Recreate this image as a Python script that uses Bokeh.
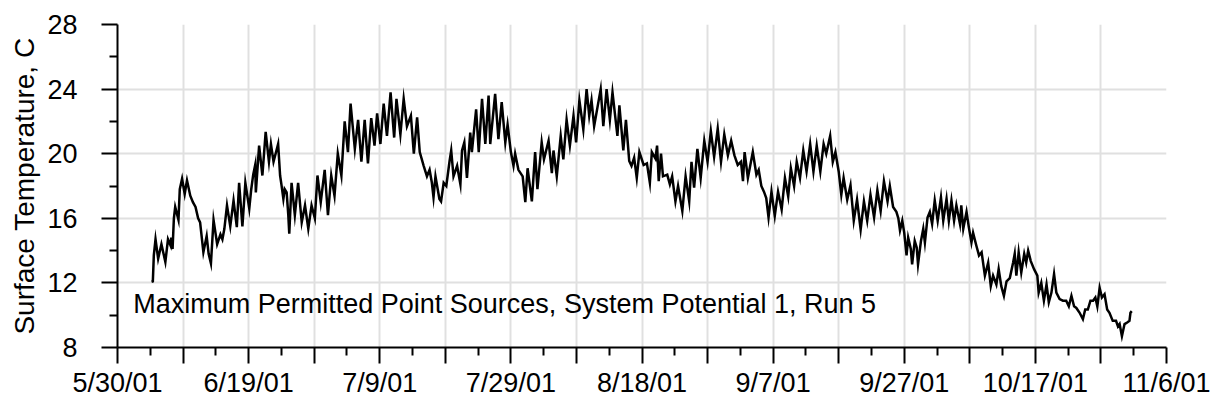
from bokeh.plotting import figure
from bokeh.models import FixedTicker, Range1d, Label
from bokeh.embed import file_html
from bokeh.resources import INLINE

# Days since 5/30/01
days = [
    5.19, 5.39, 5.54, 5.8, 6.2, 6.7, 7.3, 7.7, 8.1, 8.2, 8.4, 8.6, 8.8, 9.3, 9.5, 9.85,
    10.25, 10.6, 11.1, 11.5, 11.9, 12.3, 12.6, 13.1, 13.6, 13.9, 14.25, 14.65, 15.2, 15.7,
    16.0, 16.3, 16.7, 17.2, 17.7, 18.2, 18.55, 19.05, 19.5, 20.1, 20.4, 20.7, 21.0, 21.1,
    21.6, 22.1, 22.6, 23.1, 23.4, 23.8, 24.5, 24.8, 25.0, 25.3, 25.5, 25.8, 26.05, 26.2,
    26.55, 27.05, 27.55, 28.1, 28.6, 29.1, 29.6, 30.1, 30.5, 31.0, 31.6, 32.1, 32.6, 33.1,
    33.6, 34.15, 34.65, 35.15, 35.55, 36.2, 36.7, 37.2, 37.7, 38.2, 38.7, 39.2, 39.6, 40.1,
    40.6, 41.1, 41.65, 42.2, 42.55, 43.15, 43.65, 44.15, 44.75, 45.2, 45.7, 46.1, 46.7,
    47.2, 47.6, 47.95, 48.2, 48.5, 49.1, 49.35, 49.75, 50.15, 50.65, 50.9, 51.25, 51.8,
    52.3, 52.55, 52.9, 53.3, 53.8, 54.05, 54.7, 55.1, 55.6, 56.1, 56.6, 56.85, 57.6, 58.1,
    58.6, 59.15, 59.5, 60.0, 60.4, 60.65, 61.15, 61.8, 62.2, 62.55, 63.2, 63.7, 64.05,
    64.7, 65.05, 65.75, 66.25, 66.5, 67.0, 67.6, 68.0, 68.5, 69.0, 69.55, 69.95, 70.45,
    71.05, 71.55, 71.95, 72.3, 72.7, 73.7, 74.1, 74.6, 75.1, 75.5, 76.25, 76.55, 77.15,
    77.55, 78.05, 78.4, 78.8, 79.2, 79.6, 80.25, 80.75, 81.2, 81.5, 82.05, 82.3, 82.55,
    82.9, 83.2, 83.85, 84.25, 84.6, 85.1, 85.5, 86.15, 86.65, 87.2, 87.55, 87.95, 88.45,
    88.95, 89.5, 90.0, 90.5, 91.0, 91.55, 92.05, 92.55, 93.1, 93.6, 94.1, 94.6, 95.1, 95.4,
    95.65, 96.15, 96.9, 97.45, 97.8, 98.2, 98.6, 98.95, 99.3, 99.75, 100.25, 100.75, 101.3,
    101.8, 102.3, 102.7, 103.2, 103.6, 104.1, 104.6, 105.1, 105.65, 106.15, 106.65, 107.2,
    107.7, 108.1, 108.7, 109.1, 109.5, 110.0, 110.4, 110.75, 111.3, 111.8, 112.3, 112.8,
    113.35, 113.85, 114.35, 114.85, 115.4, 115.9, 116.4, 116.9, 117.45, 117.8, 118.3,
    118.8, 119.1, 119.35, 119.7, 120.0, 120.35, 120.6, 121.0, 121.2, 121.6, 121.9, 122.1,
    122.55, 122.9, 123.15, 123.55, 123.9, 124.25, 124.65, 125.1, 125.6, 125.95, 126.45,
    126.8, 127.2, 127.6, 127.95, 128.5, 128.7, 129.0, 129.5, 129.85, 130.25, 130.5, 131.0,
    131.4, 131.8, 132.3, 132.8, 133.2, 133.55, 134.05, 134.4, 134.8, 135.2, 135.6, 136.1,
    136.6, 136.85, 137.1, 137.45, 137.85, 138.3, 138.6, 138.9, 139.3, 139.8, 140.3, 140.5,
    140.9, 141.3, 141.7, 142.05, 142.45, 142.85, 143.2, 143.7, 144.2, 144.7, 145.1, 145.5,
    145.9, 146.25, 146.75, 147.25, 147.6, 148.0, 148.4, 148.8, 149.15, 149.45, 149.8,
    150.15, 150.55, 150.95, 151.3, 151.8, 152.3, 152.6, 152.85, 153.2, 153.6, 154.0,
    154.35, 154.5, 154.7,
]

# Surface temperature, C
temps = [
    12.07, 12.1, 13.7, 14.7, 13.5, 14.4, 13.3, 14.7, 14.3, 14.8, 14.1, 16.0, 16.7, 15.9, 17.8, 18.45,
    17.5, 18.35, 17.4, 17.0, 16.7, 16.0, 15.75, 13.9, 14.9, 13.8, 13.2, 15.9, 14.4, 15.0,
    14.7, 15.35, 16.8, 15.5, 17.1, 15.45, 18.2, 15.5, 18.2, 16.6, 17.8, 18.7, 19.3, 17.6,
    20.5, 18.65, 21.35, 19.5, 20.6, 19.5, 20.6, 18.65, 18.1, 17.2, 17.8, 17.6, 16.2, 15.05,
    18.2, 16.2, 18.2, 15.75, 16.8, 15.35, 16.8, 16.0, 18.65, 17.0, 19.0, 16.2, 18.65, 17.4,
    20.0, 18.65, 22.0, 20.1, 23.1, 20.3, 22.1, 19.5, 22.1, 19.4, 22.2, 20.5, 22.5, 20.6,
    23.1, 21.1, 23.8, 21.0, 23.4, 21.2, 23.4, 21.7, 22.35, 20.0, 22.25, 20.1, 19.25,
    18.6, 19.0, 18.2, 17.3, 18.6, 17.2, 17.05, 18.2, 18.0, 19.55, 20.2, 18.6, 19.25,
    18.1, 20.2, 20.7, 18.5, 21.3, 20.1, 22.75, 20.1, 23.4, 20.6, 23.6, 20.6, 23.7, 20.9,
    23.2, 20.7, 21.8, 20.1, 19.25, 20.0, 19.0, 18.6, 17.0, 19.1, 17.05, 20.1, 17.8,
    20.7, 19.65, 20.8, 18.8, 20.2, 18.6, 21.1, 19.65, 22.1, 20.5, 22.35, 20.7, 23.3,
    21.5, 24.0, 22.35, 23.3, 21.7, 24.0, 21.7, 24.0, 22.1, 23.8, 21.1, 23.0, 20.2,
    22.1, 19.55, 19.25, 19.75, 18.5, 20.1, 19.3, 19.4, 18.2, 20.1, 19.7, 20.5, 18.3,
    20.0, 18.6, 18.7, 18.1, 18.6, 17.05, 18.0, 16.45, 18.6, 17.05, 19.5, 17.9, 20.3,
    18.5, 20.8, 19.5, 21.4, 19.8, 21.55, 19.5, 21.2, 19.9, 20.8, 19.9, 19.3, 19.5, 18.3,
    20.1, 18.5, 20.1, 18.7, 19.0, 18.0, 17.65, 17.25, 16.05, 17.65, 16.15, 17.65, 16.55,
    18.5, 17.35, 19.1, 18.0, 19.5, 18.5, 20.2, 18.9, 20.6, 18.9, 20.5, 18.9,
    20.6, 20.0, 21.1, 19.5, 20.1, 18.9, 17.45, 18.5, 17.15, 18.05, 15.85, 17.15,
    15.3, 17.05, 15.85, 17.45, 16.05, 17.75, 16.45, 18.3, 17.05, 18.0, 16.7,
    16.4, 16.0, 15.25, 15.85, 15.1, 13.7, 14.8, 14.1, 13.15, 14.6, 14.2, 13.15,
    14.6, 15.35, 14.5, 16.05, 16.4, 15.65, 17.1, 15.85, 17.3, 15.85, 17.2,
    15.85, 17.1, 15.85, 16.8, 15.65, 16.8, 15.35, 16.4, 15.45, 14.5, 15.1, 14.3,
    13.7, 13.9, 12.45, 13.25, 11.8, 12.45, 11.9, 12.85, 11.8, 11.2, 12.1, 12.3,
    13.25, 13.8, 12.45, 13.9, 12.65, 13.8, 13.25, 14.0, 13.35, 12.85, 12.45, 11.4,
    12.0, 10.9, 11.9, 10.8, 11.4, 12.55, 11.4, 11.0, 10.9, 10.9, 10.55, 11.2,
    10.55, 10.45, 10.15, 9.75, 10.35, 10.35, 10.9, 10.9, 11.1, 10.55, 11.7,
    11.1, 11.3, 10.35, 10.15, 9.65, 9.65, 9.3, 9.45, 8.7, 9.45, 9.55,
    9.65, 10.15, 10.25,
]

x_tick_days = [0, 10, 20, 30, 40, 50, 60, 70, 80, 90, 100, 110, 120, 130, 140, 150, 160]
x_tick_labels = ["5/30/01", "", "6/19/01", "", "7/9/01", "", "7/29/01", "", "8/18/01", "",
                 "9/7/01", "", "9/27/01", "", "10/17/01", "", "11/6/01"]
x_minor_days = [5, 15, 25, 35, 45, 55, 65, 75, 85, 95, 105, 115, 125, 135, 145, 155]
y_ticks = [8, 12, 16, 20, 24, 28]
y_minor = [10, 14, 18, 22, 26]
y_title = "Surface Temperature, C"
note = "Maximum Permitted Point Sources, System Potential 1, Run 5"

FONT = "Liberation Sans"
FS = "27px"

p = figure(width=1216, height=409,
           min_border_left=117, min_border_top=24, min_border_right=50, min_border_bottom=62,
           x_range=Range1d(0, 160), y_range=Range1d(8, 28),
           output_backend="svg", toolbar_location=None)
p.outline_line_color = None
p.background_fill_color = "white"
p.border_fill_color = "white"

p.line(days, temps, line_color="black", line_width=2.5, line_join="miter")

# x axis
p.xaxis.ticker = FixedTicker(ticks=x_tick_days, minor_ticks=x_minor_days)
p.xaxis.major_label_overrides = {d: lab for d, lab in zip(x_tick_days, x_tick_labels)}
# y axis
p.yaxis.ticker = FixedTicker(ticks=y_ticks, minor_ticks=y_minor)
p.yaxis.axis_label = y_title

for ax in (p.xaxis[0], p.yaxis[0]):
    ax.axis_line_color = "black"
    ax.axis_line_width = 2
    ax.major_tick_line_color = "black"
    ax.major_tick_line_width = 2
    ax.minor_tick_line_color = "black"
    ax.minor_tick_line_width = 2
    ax.major_tick_in = 0
    ax.major_tick_out = 16
    ax.minor_tick_in = 0
    ax.minor_tick_out = 8
    ax.major_label_text_font = FONT
    ax.major_label_text_font_size = FS
    ax.major_label_text_color = "black"
    ax.axis_label_text_font = FONT
    ax.axis_label_text_font_size = "28px"
    ax.axis_label_text_font_style = "normal"
    ax.axis_label_text_color = "black"

p.xaxis.major_label_standoff = 4
p.yaxis.major_label_standoff = 24
p.yaxis.axis_label_standoff = 4

p.xgrid.ticker = FixedTicker(ticks=x_tick_days)
p.ygrid.ticker = FixedTicker(ticks=y_ticks)
p.grid.grid_line_color = "#e0e0e0"
p.grid.grid_line_width = 2

p.add_layout(Label(x=2.4, y=10.7, text=note, text_font=FONT, text_font_size=FS,
                   text_baseline="middle", text_align="left", text_color="black"))

open("out.html", "w").write(file_html(p, INLINE))
